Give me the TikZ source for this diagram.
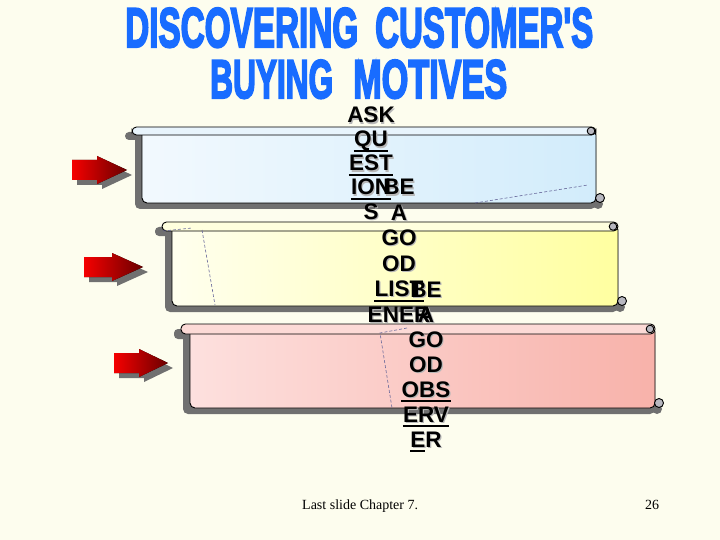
\documentclass[tikz,border=0pt]{standalone}
\usepackage{fontspec}
\setmainfont{Liberation Sans}
\newfontfamily\serifft{Liberation Serif}
\newfontfamily\titlefont[UprightFont={* Bold}, UprightFeatures={FakeBold=4}]{Liberation Sans}
\usetikzlibrary{calc}
\definecolor{bg}{RGB}{253,253,238}
\definecolor{titleblue}{RGB}{24,108,255}
\definecolor{shgray}{RGB}{112,112,112}
\definecolor{curlgray}{RGB}{184,184,192}
\definecolor{sAl}{RGB}{242,249,254}\definecolor{sAr}{RGB}{210,236,251}\definecolor{sAb}{RGB}{232,244,252}
\definecolor{sBl}{RGB}{255,255,238}\definecolor{sBr}{RGB}{255,255,160}\definecolor{sBb}{RGB}{255,255,222}
\definecolor{sCl}{RGB}{253,224,222}\definecolor{sCr}{RGB}{248,178,170}\definecolor{sCb}{RGB}{252,218,214}
\definecolor{arrowlight}{RGB}{245,0,0}\definecolor{arrowdark}{RGB}{105,0,0}
\tikzset{
  scrolline/.style={draw=black, line width=0.9pt},
  dashline/.style={draw=gray!80!blue, line width=0.6pt, dash pattern=on 3pt off 2pt},
  txt/.style={inner sep=0pt, anchor=base, text=black, font=\fontsize{22.5pt}{26pt}\selectfont\bfseries},
  txtsh/.style={txt, text=black!28},
  uline/.style={draw=black, line width=2pt},
  titletxt/.style={inner sep=0pt, anchor=base west, text=titleblue, font=\titlefont},
  foot/.style={inner sep=0pt, text=black, font=\serifft\fontsize{14pt}{16pt}\selectfont},
}
% #1 colour prefix, #2 barL, #3 bodyL, #4 R, #5 barTop, #6 barBot, #7 bottom
\newcommand\drawscroll[7]{%
  \fill[shgray, rounded corners=4pt] (#2-7,#5+5) rectangle (#3,#6+5);
  \fill[shgray, rounded corners=5pt] (#3-7,#5+6) rectangle (#4,#7+6);
  \fill[shgray] (#4+2,#7+1) circle[radius=5pt];
  \draw[scrolline, rounded corners=5pt, left color=#1l, right color=#1r] (#3,#5+3) rectangle (#4,#7);
  \draw[scrolline, rounded corners=4.5pt, fill=#1b] (#2,#5) rectangle (#4,#6);
  \draw[scrolline, fill=curlgray] (#4-5,{(#5+#6)/2}) circle[radius=3.8pt];
  \draw[scrolline, fill=curlgray] (#4+4,#7-5) circle[radius=4.5pt];
}
% #1 x0, #2 head start, #3 tip, #4 centre y
\newcommand\redarrow[4]{%
  \fill[shgray] (#1+5,#4-5) -- (#2+5,#4-5) -- (#2+5,#4-9) -- (#3+5,#4+5) -- (#2+5,#4+19) -- (#2+5,#4+15) -- (#1+5,#4+15) -- cycle;
  \fill[left color=arrowlight, right color=arrowdark] (#1,#4-10) -- (#2,#4-10) -- (#2,#4-14) -- (#3,#4) -- (#2,#4+14) -- (#2,#4+10) -- (#1,#4+10) -- cycle;
}
\begin{document}
\begin{tikzpicture}[x=1pt, y=-1pt]
\useasboundingbox (0,0) rectangle (720,540);
\fill[bg] (0,0) rectangle (720,540);

% title
\node[titletxt] (t1) at (125,47) {\resizebox{233pt}{39pt}{DISCOVERING}};
\node[titletxt] (t2) at (375,47) {\resizebox{218pt}{39pt}{CUSTOMER'S}};
\node[titletxt] (t3) at (210,98) {\resizebox{123pt}{38pt}{BUYING}};
\node[titletxt] (t4) at (353,98) {\resizebox{154pt}{38pt}{MOTIVES}};

% arrows
\redarrow{72}{97}{127}{170}
\redarrow{84}{112}{143}{267}
\redarrow{114}{139}{168}{363}

% scrolls
\drawscroll{sA}{132}{142}{596}{127}{135}{203}
\draw[dashline] (475,203) -- (588,185);
\drawscroll{sB}{162}{172}{618}{222}{231}{306}
\draw[dashline] (163,231) -- (192,228);
\draw[dashline] (202,230) -- (215,305);
\drawscroll{sC}{181}{190}{655}{324}{334}{408}
\draw[dashline] (407,328) -- (380,333) -- (392,408);

% text shadows
\foreach \t [count=\i] in {ASK,QU,EST,ION,S}
  \node[txtsh] (As\i) at (372.2,{124.2+(\i-1)*24}) {\t};
\foreach \t [count=\i] in {BE,A,GO,OD,LIST,ENER}
  \node[txtsh] (Bs\i) at (400.2,{196.2+(\i-1)*25.4}) {\t};
\foreach \t [count=\i] in {BE,A,GO,OD,OBS,ERV,ER}
  \node[txtsh] (Cs\i) at (427.2,{298.2+(\i-1)*25}) {\t};

% texts
\foreach \t [count=\i] in {ASK,QU,EST,ION,S}
  \node[txt] (A\i) at (371,{123+(\i-1)*24}) {\t};
\foreach \t [count=\i] in {BE,A,GO,OD,LIST,ENER}
  \node[txt] (B\i) at (399,{195+(\i-1)*25.4}) {\t};
\foreach \t [count=\i] in {BE,A,GO,OD,OBS,ERV,ER}
  \node[txt] (C\i) at (426,{297+(\i-1)*25}) {\t};

% underlines
\foreach \n in {A2,A3,A4,B5,C5,C6}
  \draw[uline] ([yshift=-4pt]\n.base west) -- ([yshift=-4pt]\n.base east);
\draw[uline] ([yshift=-4pt]C7.base west) -- ([yshift=-4pt,xshift=15pt]C7.base west);

% footer
\node[foot, anchor=base west] (f1) at (302,509) {Last slide Chapter 7.};
\node[foot, anchor=base] (f2) at (652,509) {26};
\end{tikzpicture}
\end{document}
